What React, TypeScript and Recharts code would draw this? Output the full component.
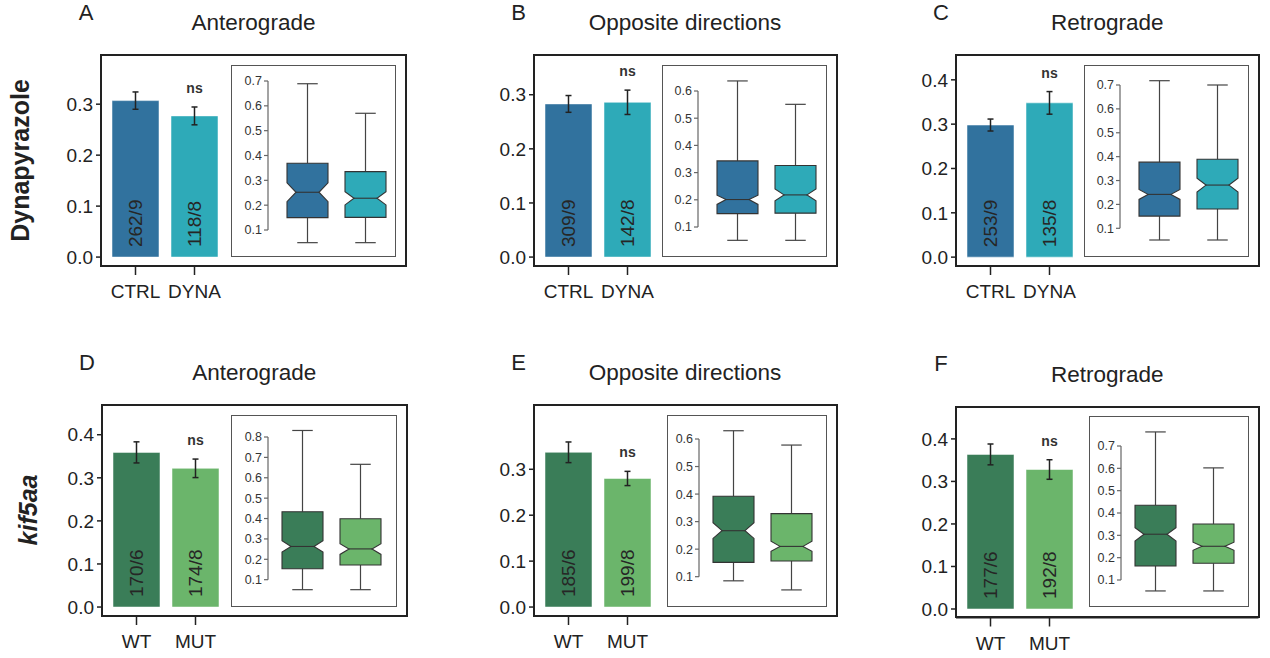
import React from "react";
import { BarChart, Bar, XAxis, YAxis, ErrorBar, Cell, LabelList } from "recharts";

// groups and colours
const dynaGroups = ["CTRL", "DYNA"];
const kifGroups = ["WT", "MUT"];
const dynaColors = ["#31729e", "#2eaab8"];
const kifColors = ["#3a7d58", "#6bb56b"];
const sigLabels = ["", "ns"];

// bar means, sem, n (tracks/larvae)
const antDynaMean = [0.307, 0.277];
const antDynaSem = [0.017, 0.0175];
const antDynaN = ["262/9", "118/8"];
const oppDynaMean = [0.283, 0.286];
const oppDynaSem = [0.0155, 0.0225];
const oppDynaN = ["309/9", "142/8"];
const retDynaMean = [0.298, 0.348];
const retDynaSem = [0.0135, 0.0255];
const retDynaN = ["253/9", "135/8"];
const antKifMean = [0.359, 0.322];
const antKifSem = [0.0245, 0.0215];
const antKifN = ["170/6", "174/8"];
const oppKifMean = [0.337, 0.28];
const oppKifSem = [0.0225, 0.0155];
const oppKifN = ["185/6", "199/8"];
const retKifMean = [0.3635, 0.328];
const retKifSem = [0.0245, 0.023];
const retKifN = ["177/6", "192/8"];

// boxes: [min, q1, notchLo, median, notchHi, q3, max]
const antDynaBox = [
  [0.049, 0.15, 0.214, 0.252, 0.29, 0.369, 0.689],
  [0.049, 0.151, 0.201, 0.228, 0.254, 0.335, 0.57],
];
const oppDynaBox = [
  [0.051, 0.149, 0.183, 0.201, 0.217, 0.343, 0.637],
  [0.051, 0.151, 0.196, 0.218, 0.24, 0.326, 0.551],
];
const retDynaBox = [
  [0.051, 0.151, 0.221, 0.242, 0.263, 0.377, 0.718],
  [0.051, 0.181, 0.252, 0.281, 0.31, 0.389, 0.7],
];
const antKifBox = [
  [0.051, 0.154, 0.236, 0.263, 0.291, 0.433, 0.832],
  [0.051, 0.172, 0.224, 0.251, 0.277, 0.399, 0.666],
];
const oppKifBox = [
  [0.085, 0.152, 0.239, 0.267, 0.296, 0.392, 0.63],
  [0.052, 0.157, 0.192, 0.21, 0.229, 0.329, 0.578],
];
const retKifBox = [
  [0.051, 0.163, 0.274, 0.305, 0.334, 0.435, 0.763],
  [0.051, 0.175, 0.233, 0.251, 0.269, 0.351, 0.602],
];

const ticks3 = [0, 0.1, 0.2, 0.3];
const ticks4 = [0, 0.1, 0.2, 0.3, 0.4];
const inset6 = [0.1, 0.2, 0.3, 0.4, 0.5, 0.6];
const inset7 = [0.1, 0.2, 0.3, 0.4, 0.5, 0.6, 0.7];
const inset8 = [0.1, 0.2, 0.3, 0.4, 0.5, 0.6, 0.7, 0.8];

const panels = [
  { letter: "A", title: "Anterograde", groups: dynaGroups, colors: dynaColors, mean: antDynaMean, sem: antDynaSem, n: antDynaN, box: antDynaBox, domain: [-0.0175, 0.3965], ticks: ticks3, inset: inset7 },
  { letter: "B", title: "Opposite directions", groups: dynaGroups, colors: dynaColors, mean: oppDynaMean, sem: oppDynaSem, n: oppDynaN, box: oppDynaBox, domain: [-0.0165, 0.3734], ticks: ticks3, inset: inset6 },
  { letter: "C", title: "Retrograde", groups: dynaGroups, colors: dynaColors, mean: retDynaMean, sem: retDynaSem, n: retDynaN, box: retDynaBox, domain: [-0.02, 0.456], ticks: ticks4, inset: inset7 },
  { letter: "D", title: "Anterograde", groups: kifGroups, colors: kifColors, mean: antKifMean, sem: antKifSem, n: antKifN, box: antKifBox, domain: [-0.0208, 0.469], ticks: ticks4, inset: inset8 },
  { letter: "E", title: "Opposite directions", groups: kifGroups, colors: kifColors, mean: oppKifMean, sem: oppKifSem, n: oppKifN, box: oppKifBox, domain: [-0.0195, 0.44], ticks: ticks3, inset: inset6 },
  { letter: "F", title: "Retrograde", groups: kifGroups, colors: kifColors, mean: retKifMean, sem: retKifSem, n: retKifN, box: retKifBox, domain: [-0.02, 0.475], ticks: ticks4, inset: inset7 },
];

// page layout (px): frame, inset frame, inset axis x, inset tick span, inset padding
const layouts = [
  { fx: 101, fy: 55, fw: 305, fh: 211, ix: 231, iy: 64.5, iw: 165, ih: 192, ax: 268, tTop: 81, tBot: 230, ip: 10 },
  { fx: 533.5, fy: 55, fw: 303, fh: 211, ix: 662, iy: 64.5, iw: 165, ih: 192, ax: 698.3, tTop: 90.7, tBot: 226.7, ip: 10 },
  { fx: 956, fy: 55, fw: 302.5, fh: 211, ix: 1083.5, iy: 64.5, iw: 165.5, ih: 192, ax: 1120, tTop: 85, tBot: 228.3, ip: 10 },
  { fx: 102, fy: 405, fw: 304.5, fh: 211, ix: 231, iy: 414.5, iw: 165.5, ih: 192, ax: 267.7, tTop: 437.3, tBot: 580, ip: 5 },
  { fx: 533.5, fy: 405, fw: 303, fh: 211, ix: 667, iy: 414.5, iw: 160, ih: 192, ax: 699, tTop: 439, tBot: 576.7, ip: 5 },
  { fx: 956, fy: 406.5, fw: 302.5, fh: 210.5, ix: 1088.7, iy: 416, iw: 160, ih: 191, ax: 1120.7, tTop: 446, tBot: 580, ip: 5 },
];

const INK = "#222";
const fmt = (v: number) => v.toFixed(1);

const CountLabel = (props: any) => {
  const { x, y, width, height, value } = props;
  const cx = x + width / 2;
  const by = y + height - 10;
  return (
    <text x={cx} y={by} dy="0.36em" fontSize={19} fill="#262626" textAnchor="start" transform={`rotate(-90 ${cx} ${by})`}>
      {value}
    </text>
  );
};

const makeSigLabel = (mean: number[], sem: number[]) => (props: any) => {
  const { x, y, width, height, value, index } = props;
  if (!value) return null;
  const k = height / mean[index];
  const errTop = y - sem[index] * k;
  return (
    <text x={x + width / 2} y={errTop - 14} fontSize={14} fontWeight="bold" fill="#333" textAnchor="middle">
      {value}
    </text>
  );
};

const BoxShape = (props: any) => {
  const { x, y, width, height, fill, payload } = props;
  const top = Math.min(y, y + height);
  const h = Math.abs(height);
  const [mn, q1, nlo, med, nhi, q3, mx] = payload.stats;
  const k = h / (q3 - q1);
  const py = (v: number) => top + (q3 - v) * k;
  const cx = x + width / 2;
  const ins = width * 0.22;
  const cap = width * 0.25;
  const r = x + width;
  const d = `M${x},${py(q3)} H${r} V${py(nhi)} L${r - ins},${py(med)} L${r},${py(nlo)} V${py(q1)} H${x} V${py(nlo)} L${x + ins},${py(med)} L${x},${py(nhi)} Z`;
  return (
    <g>
      <line x1={cx} x2={cx} y1={py(mx)} y2={py(q3)} stroke="#444" strokeWidth={1.2} />
      <line x1={cx} x2={cx} y1={py(q1)} y2={py(mn)} stroke="#444" strokeWidth={1.2} />
      <line x1={cx - cap} x2={cx + cap} y1={py(mx)} y2={py(mx)} stroke="#444" strokeWidth={1.2} />
      <line x1={cx - cap} x2={cx + cap} y1={py(mn)} y2={py(mn)} stroke="#444" strokeWidth={1.2} />
      <path d={d} fill={fill} stroke="#333" strokeWidth={1.1} />
      <line x1={x + ins} x2={r - ins} y1={py(med)} y2={py(med)} stroke="#333" strokeWidth={1.1} />
    </g>
  );
};

function MainChart({ p, lay }: { p: any; lay: any }) {
  const data = p.groups.map((g: string, i: number) => ({ name: g, mean: p.mean[i], sem: p.sem[i], n: p.n[i], sig: sigLabels[i] }));
  const yW = 60;
  const xH = 50;
  const frame = { stroke: INK, strokeWidth: 2 };
  return (
    <>
      <div style={{ position: "absolute", left: lay.fx - 1, top: lay.fy - 1, width: lay.fw + 2, height: lay.fh + 2, border: `2px solid ${INK}`, boxSizing: "border-box" }} />
      <div style={{ position: "absolute", left: lay.fx - yW, top: lay.fy - 2 }}>
        <BarChart width={yW + lay.fw + 2} height={2 + lay.fh + xH} data={data} margin={{ top: 2, right: 2, left: 0, bottom: 0 }}>
          <XAxis dataKey="name" interval={0} height={xH} padding={{ left: 5, right: lay.fw - 123 }} tickSize={9} tickMargin={10} tick={{ fontSize: 19, fill: INK }} axisLine={frame} tickLine={{ stroke: INK, strokeWidth: 1.5 }} />
          <YAxis type="number" domain={p.domain} ticks={p.ticks} width={yW} tickFormatter={fmt} tickSize={5} tickMargin={3} tick={{ fontSize: 19, fill: INK }} axisLine={frame} tickLine={{ stroke: INK, strokeWidth: 1.5 }} />
          <Bar dataKey="mean" barSize={47} isAnimationActive={false} stroke="#ffffff" strokeOpacity={0.5} strokeWidth={1}>
            {data.map((_: any, i: number) => (
              <Cell key={i} fill={p.colors[i]} />
            ))}
            <ErrorBar dataKey="sem" direction="y" width={3} stroke={INK} strokeWidth={1.5} isAnimationActive={false} />
            <LabelList dataKey="n" content={CountLabel} />
            <LabelList dataKey="sig" content={makeSigLabel(p.mean, p.sem)} />
          </Bar>
        </BarChart>
      </div>
    </>
  );
}

function InsetChart({ p, lay }: { p: any; lay: any }) {
  const data = p.groups.map((g: string, i: number) => ({ name: g, iqr: [p.box[i][1], p.box[i][5]], stats: p.box[i] }));
  const yW = 40;
  const pad = 22;
  const plotW = 2 * lay.ip + 116;
  const plotH = lay.tBot - lay.tTop;
  const top = p.inset[p.inset.length - 1];
  return (
    <>
      <div style={{ position: "absolute", left: lay.ix, top: lay.iy, width: lay.iw, height: lay.ih, border: "1.3px solid #555", boxSizing: "border-box" }} />
      <div style={{ position: "absolute", left: lay.ax - yW, top: lay.tTop - pad }}>
        <BarChart width={yW + plotW} height={plotH + 2 * pad} data={data} margin={{ top: pad, bottom: pad, left: 0, right: 0 }}>
          <XAxis dataKey="name" hide padding={{ left: lay.ip, right: lay.ip }} />
          <YAxis type="number" domain={[0.1, top]} ticks={p.inset} width={yW} tickFormatter={fmt} tickSize={4} tickMargin={2} tick={{ fontSize: 12.5, fill: "#333" }} axisLine={{ stroke: "#666", strokeWidth: 1.2 }} tickLine={{ stroke: "#666", strokeWidth: 1.2 }} />
          <Bar dataKey="iqr" barSize={41} isAnimationActive={false} shape={(s: any) => <BoxShape {...s} />}>
            {data.map((_: any, i: number) => (
              <Cell key={i} fill={p.colors[i]} />
            ))}
          </Bar>
        </BarChart>
      </div>
    </>
  );
}

export default function App() {
  return (
    <div style={{ position: "absolute", left: 0, top: 0, width: 1270, height: 658, background: "#fff", fontFamily: "'Liberation Sans', Arial, sans-serif", color: INK }}>
      <svg width={1270} height={658} style={{ position: "absolute", left: 0, top: 0 }}>
        {panels.map((p, i) => {
          const lay = layouts[i];
          return (
            <g key={i} fill={INK}>
              <text x={lay.fx + lay.fw / 2} y={lay.fy - 33} dy="0.36em" fontSize={22.5} textAnchor="middle">
                {p.title}
              </text>
              <text x={lay.fx - 15} y={lay.fy - 43} dy="0.36em" fontSize={22} textAnchor="middle">
                {p.letter}
              </text>
            </g>
          );
        })}
        <text x={29} y={160.5} fontSize={25} fontWeight="bold" fill={INK} textAnchor="middle" transform="rotate(-90 29 160.5)">
          Dynapyrazole
        </text>
        <text x={36.5} y={510} fontSize={25} fontWeight="bold" fontStyle="italic" fill={INK} textAnchor="middle" transform="rotate(-90 36.5 510)">
          kif5aa
        </text>
      </svg>
      {panels.map((p, i) => (
        <React.Fragment key={i}>
          <MainChart p={p} lay={layouts[i]} />
          <InsetChart p={p} lay={layouts[i]} />
        </React.Fragment>
      ))}
    </div>
  );
}
